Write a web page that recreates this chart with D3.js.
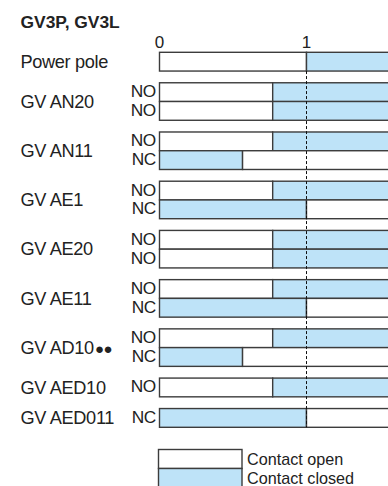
<!DOCTYPE html>
<html>
<head>
<meta charset="utf-8">
<script src="https://cdn.jsdelivr.net/npm/d3@7"></script>
<style>
  html, body { margin: 0; padding: 0; background: #fff; }
  svg { display: block; }
  text { font-family: "Liberation Sans", Arial, Helvetica, sans-serif; fill: #222; }
</style>
</head>
<body>
<svg id="chart" width="388" height="486"></svg>
<script>
// ---- data ----
const title = "GV3P, GV3L";
const groups = ["Power pole", "GV AN20", "GV AN11", "GV AE1", "GV AE20", "GV AE11", "GV AD10", "GV AED10", "GV AED011"];
const groupSuffix = ["", "", "", "", "", "", "●●", "", ""];
const contacts = [[""], ["NO", "NO"], ["NO", "NC"], ["NO", "NC"], ["NO", "NO"], ["NO", "NC"], ["NO", "NC"], ["NO"], ["NC"]];
// position (travel) at which each contact changes state
const switchAt = [[1], [0.77, 0.77], [0.77, 0.565], [0.77, 1], [0.77, 0.77], [0.77, 1], [0.77, 0.565], [0.77], [1]];
const tickValues = [0, 1];
const tickLabels = ["0", "1"];
const legendLabels = ["Contact open", "Contact closed"];

const openColor = "#ffffff";
const closedColor = "#bee3f8";
const strokeColor = "#3c3c3c";

const svg = d3.select("#chart");

// scales
const x = d3.scaleLinear().domain([0, 1]).range([159.5, 306.5]);
const xEnd = 2; // bars run off the right edge
const gapUnits = 0.625;
const y = d3.scaleLinear().domain([0, 1]).range([52.3, 52.3 + 18.75]);

// build row records
const rows = [];
const groupInfo = [];
let rowCount = 0;
groups.forEach((g, gi) => {
  const start = rowCount + gi * gapUnits;
  contacts[gi].forEach((c, ci) => {
    rows.push({
      group: gi, label: c, sw: switchAt[gi][ci],
      startsClosed: c === "NC",
      u: start + ci
    });
  });
  rowCount += contacts[gi].length;
  groupInfo.push({ name: g, suffix: groupSuffix[gi], u0: start, u1: start + contacts[gi].length });
});

// title
svg.append("text").attr("x", 20.5).attr("y", 27.5)
  .attr("font-size", 17.4).attr("font-weight", "bold").text(title);

// tick labels
svg.selectAll(".tick").data(tickValues).enter().append("text")
  .attr("x", d => x(d)).attr("y", 48).attr("text-anchor", "middle")
  .attr("font-size", 17).text((d, i) => tickLabels[i]);

// group labels
groupInfo.forEach(g => {
  const t = svg.append("text").attr("x", 20.5)
    .attr("y", (y(g.u0) + y(g.u1)) / 2 + 6.3)
    .attr("font-size", 18.2).attr("letter-spacing", -0.35).text(g.name);
  if (g.suffix) t.append("tspan").attr("font-size", 15).attr("dx", 1).text(g.suffix);
});

// contact labels
svg.selectAll(".clabel").data(rows.filter(r => r.label)).enter().append("text")
  .attr("x", 156).attr("y", r => (y(r.u) + y(r.u + 1)) / 2 + 5)
  .attr("text-anchor", "end").attr("font-size", 17.3).attr("letter-spacing", -0.3).text(r => r.label);

// bar segments
const segs = [];
rows.forEach(r => {
  segs.push({ r, x0: 0, x1: r.sw, closed: r.startsClosed });
  segs.push({ r, x0: r.sw, x1: xEnd, closed: !r.startsClosed });
});
svg.selectAll(".seg").data(segs).enter().append("rect")
  .attr("x", s => x(s.x0)).attr("width", s => x(s.x1) - x(s.x0))
  .attr("y", s => y(s.r.u)).attr("height", s => y(s.r.u + 1) - y(s.r.u))
  .attr("fill", s => s.closed ? closedColor : openColor)
  .attr("stroke", strokeColor).attr("stroke-width", 1.4);

// dashed reference line at 1
svg.append("line")
  .attr("x1", x(1)).attr("x2", x(1))
  .attr("y1", y(groupInfo[0].u1)).attr("y2", y(groupInfo[groupInfo.length - 1].u1))
  .attr("stroke", "#111").attr("stroke-width", 1).attr("stroke-dasharray", "3,2");

// legend
const lx0 = 158.5, lx1 = 242;
const ly = d3.scaleLinear().domain([0, 1]).range([449.5, 468.5]);
legendLabels.forEach((lab, i) => {
  svg.append("rect").attr("x", lx0).attr("width", lx1 - lx0)
    .attr("y", ly(i)).attr("height", ly(i + 1) - ly(i))
    .attr("fill", i === 0 ? openColor : closedColor)
    .attr("stroke", strokeColor).attr("stroke-width", 1.4);
  svg.append("text").attr("x", 247).attr("y", (ly(i) + ly(i + 1)) / 2 + 5.8)
    .attr("font-size", 16.2).text(lab);
});
</script>
</body>
</html>
